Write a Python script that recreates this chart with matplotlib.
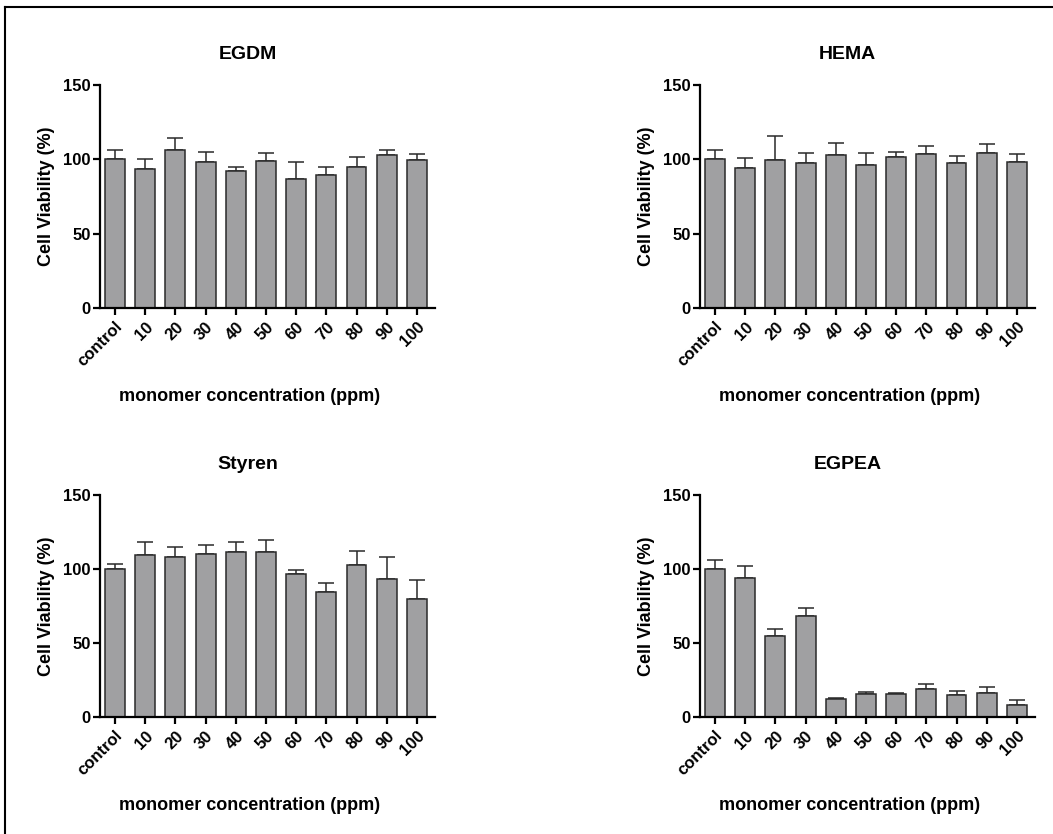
import matplotlib
matplotlib.use("Agg")
import matplotlib.pyplot as plt
from matplotlib.lines import Line2D

plt.rcParams['font.family'] = ['Liberation Sans', 'DejaVu Sans']
plt.rcParams['font.weight'] = 'bold'

categories = ["control", "10", "20", "30", "40", "50", "60", "70", "80", "90", "100"]

egdm_mean = [100, 93.6, 106.3, 98.5, 92.0, 98.7, 86.6, 89.3, 94.7, 102.8, 99.4]
egdm_err = [6.3, 6.5, 7.9, 6.3, 3.1, 5.8, 11.5, 5.4, 6.7, 3.5, 4.5]

hema_mean = [100, 94.0, 99.6, 97.6, 102.8, 96.0, 101.9, 103.9, 97.6, 104.5, 98.0]
hema_err = [6.0, 7.2, 15.9, 6.5, 8.2, 8.3, 3.3, 5.1, 4.9, 6.1, 5.4]

styren_mean = [100, 109.5, 108.3, 109.9, 111.3, 111.3, 96.4, 84.2, 102.9, 93.5, 80.0]
styren_err = [3.6, 8.5, 6.6, 6.5, 7.2, 8.5, 3.1, 6.1, 9.0, 14.4, 12.3]

egpea_mean = [100, 94.1, 54.7, 68.2, 12.4, 15.3, 15.3, 19.1, 15.1, 16.0, 8.1]
egpea_err = [6.3, 8.2, 4.8, 5.4, 0.7, 1.4, 1.1, 3.4, 2.2, 4.3, 3.4]

panels = [
    ("EGDM", egdm_mean, egdm_err),
    ("HEMA", hema_mean, hema_err),
    ("Styren", styren_mean, styren_err),
    ("EGPEA", egpea_mean, egpea_err),
]

W, H = 1053, 834
fig = plt.figure(figsize=(W / 100, H / 100), dpi=100)

# axes boxes in pixels: (left, top_of_150, right, y0)
boxes = [
    (100, 85, 435, 308),
    (700, 85, 1035, 308),
    (100, 495, 435, 717),
    (700, 495, 1035, 717),
]

bar_color = "#A0A0A2"
for (title, mean, err), (l, t, r, b) in zip(panels, boxes):
    ax = fig.add_axes([l / W, 1 - b / H, (r - l) / W, (b - t) / H])
    x = list(range(len(categories)))
    ax.bar(x, mean, width=0.66, color=bar_color, edgecolor="#2a2a2a",
           linewidth=1.1, zorder=2)
    ax.errorbar(x, mean, yerr=[[0] * len(err), err], fmt="none",
                ecolor="#2a2a2a", elinewidth=1.1, capsize=5.5, capthick=1.1,
                zorder=1)
    ax.set_xlim(-0.5, 10.6)
    ax.set_ylim(0, 150)
    ax.set_yticks([0, 50, 100, 150])
    ax.set_xticks(x)
    ax.set_xticklabels(categories, rotation=45, ha="right",
                       rotation_mode="anchor", fontsize=12, fontweight="bold")
    for lab in ax.get_yticklabels():
        lab.set_fontsize(12)
        lab.set_fontweight("bold")
    ax.spines["top"].set_visible(False)
    ax.spines["right"].set_visible(False)
    ax.spines["left"].set_linewidth(1.6)
    ax.spines["bottom"].set_linewidth(1.6)
    ax.tick_params(axis="both", direction="out", length=5, width=1.6,
                   pad=1.5, colors="black")
    ax.tick_params(axis="x", pad=3)
    ax.set_ylabel("Cell Viability (%)", fontsize=13, fontweight="bold",
                  labelpad=6)
    ax.set_xlabel("monomer concentration (ppm)", fontsize=13,
                  fontweight="bold")
    ax.xaxis.set_label_coords(0.445, -0.36)
    ax.set_title(title, fontsize=14, fontweight="bold", x=0.44, pad=19)

# frame lines (top and left)
fig.add_artist(Line2D([5 / W, 1], [1 - 7 / H, 1 - 7 / H], color="black",
                      linewidth=1.5, transform=fig.transFigure))
fig.add_artist(Line2D([5 / W, 5 / W], [0, 1 - 7 / H], color="black",
                      linewidth=1.5, transform=fig.transFigure))

fig.savefig("out.png", dpi=100)
